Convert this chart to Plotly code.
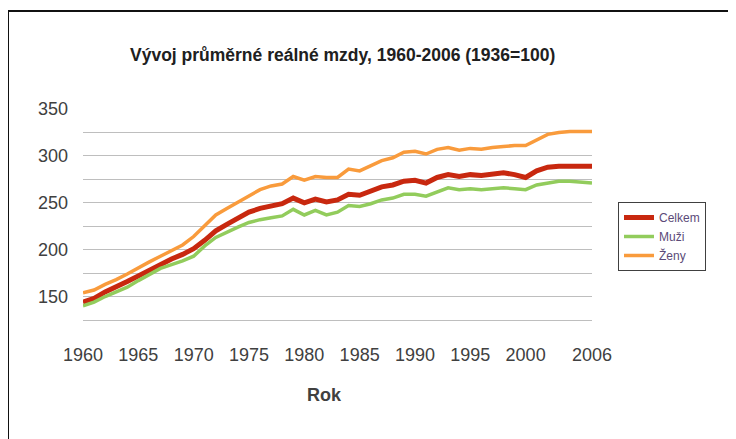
import plotly.graph_objs as go

# Index of average real wage (1936 = 100)
YEARS = list(range(1960, 2007))

CELKEM = [144, 148, 155, 160, 166, 172, 178, 185, 190, 195,
          201, 210, 220, 227, 233, 240, 244, 247, 249, 255,
          250, 254, 251, 253, 259, 258, 262, 267, 269, 273,
          274, 271, 277, 280, 278, 280, 279, 280, 282, 280,
          277, 284, 288, 289, 289, 289, 289]

MUZI = [140, 144, 150, 155, 160, 167, 174, 180, 184, 188,
        193, 204, 213, 219, 224, 229, 232, 234, 236, 243,
        237, 242, 237, 240, 247, 246, 249, 253, 255, 259,
        259, 257, 262, 266, 264, 265, 264, 265, 266, 265,
        264, 269, 271, 273, 273, 272, 271]

ZENY = [154, 157, 163, 168, 174, 181, 187, 193, 199, 205,
        214, 226, 237, 244, 251, 258, 264, 268, 270, 278,
        274, 278, 277, 277, 286, 284, 289, 295, 298, 304,
        305, 302, 307, 309, 306, 308, 307, 309, 310, 311,
        311, 317, 323, 325, 326, 326, 326]

X_TICKS = [1960, 1965, 1970, 1975, 1980, 1985, 1990, 1995, 2000, 2006]
Y_TICKS = [150, 200, 250, 300, 350]

SERIES = [
    ("Celkem", CELKEM, "#C8280F", 5),
    ("Muži", MUZI, "#92CC5C", 3.5),
    ("Ženy", ZENY, "#F99B3C", 3.5),
]

TICK_FONT = dict(family="Liberation Sans Narrow, Arial Narrow, sans-serif", size=18, color="#404040")

# the page body adds an 8px offset, so the figure is drawn 8px smaller
W, H = 728, 431
L, T, PW, PH = 75, 101, 509, 211


def px(x):
    return (x - 8 - L) / PW


def py(y):
    return (T + PH - (y - 8)) / PH


fig = go.Figure()
for name, values, color, width in SERIES:
    fig.add_trace(
        go.Scatter(
            x=YEARS,
            y=values,
            mode="lines",
            name=name,
            line=dict(color=color, width=width),
        )
    )

fig.update_layout(
    width=W,
    height=H,
    paper_bgcolor="white",
    plot_bgcolor="white",
    margin=dict(l=L, r=W - L - PW, t=T, b=H - T - PH),
    font=dict(family="Arial, Liberation Sans, sans-serif", color="#404040"),
    showlegend=True,
    legend=dict(
        x=px(618),
        y=py(202),
        xanchor="left",
        yanchor="top",
        bordercolor="#404040",
        borderwidth=1,
        font=dict(size=12, color="#5b4a78"),
        itemwidth=30,
        tracegroupgap=0,
    ),
    xaxis=dict(
        range=[1960, 2006],
        tickvals=X_TICKS,
        tickfont=TICK_FONT,
        showgrid=False,
        zeroline=False,
        showline=True,
        linecolor="#BEBEBE",
        linewidth=1,
        ticks="",
        ticklabelstandoff=18,
    ),
    yaxis=dict(
        range=[125, 350],
        tickvals=[125, 150, 175, 200, 225, 250, 275, 300, 325, 350],
        ticktext=["", "150", "", "200", "", "250", "", "300", "", "350"],
        tickfont=TICK_FONT,
        showgrid=True,
        gridcolor="#BEBEBE",
        gridwidth=1,
        zeroline=False,
        showline=False,
        ticks="",
        ticklabelstandoff=14,
    ),
    annotations=[
        dict(
            text="<b>Vývoj průměrné reálné mzdy, 1960-2006 (1936=100)</b>",
            xref="paper", yref="paper",
            x=px(342), y=py(55),
            xanchor="center", yanchor="middle",
            showarrow=False,
            font=dict(size=17.5, color="#202020"),
        ),
        dict(
            text="<b>Rok</b>",
            xref="paper", yref="paper",
            x=px(324), y=py(395),
            xanchor="center", yanchor="middle",
            showarrow=False,
            font=dict(size=18, color="#404040"),
        ),
    ],
    shapes=[
        # outer chart frame (top and left edges visible)
        dict(
            type="rect",
            xref="paper", yref="paper",
            x0=px(8), x1=px(760),
            y0=py(460), y1=py(11),
            line=dict(color="#111111", width=2),
            layer="below",
        ),
    ],
)

fig.write_html("out.html")
